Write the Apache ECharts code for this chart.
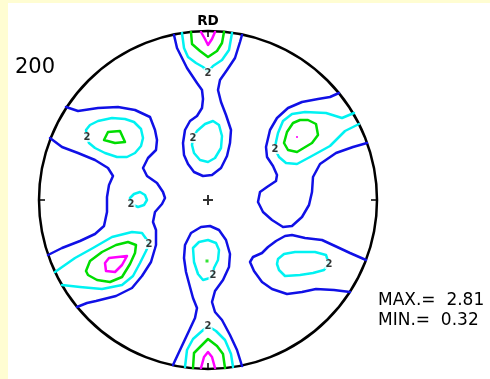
<!DOCTYPE html>
<html>
<head>
<meta charset="utf-8">
<title>200 pole figure</title>
<script src="https://cdn.jsdelivr.net/npm/echarts@6/dist/echarts.min.js"></script>
<style>
  html, body { margin: 0; padding: 0; background: #FFFDD2; width: 490px; height: 379px; overflow: hidden; }
  #chart { position: absolute; left: 8px; top: 3px; width: 482px; height: 376px; background: #ffffff; }
</style>
</head>
<body>
<div id="chart"></div>
<script>
// Pole figure {200}: projection-plane coordinates, net radius NET_R, RD pointing up.
const NET_R = 169;

// Iso-intensity lines (x, y) in net coordinates.
// Top peak (RD pole)
const topBlue = [[-34,165],[-31,152],[-21,132],[-11,117],[-6,110],[-5,101],[-6,92],[-11,84],[-18,79],[-23,70],[-25,57],[-24,45],[-20,36],[-14,28],[-5,24],[4,25],[13,32],[19,44],[22,57],[23,70],[18,85],[13,98],[10,110],[12,120],[19,130],[27,142],[32,158],[34,165]];
const topCyan = [[-26,167],[-24,152],[-20,143],[-12,137],[-5,133],[0,128],[5,134],[14,140],[21,150],[24,167]];
const topGreen = [[-17,168],[-16,156],[-8,149],[0,143],[9,149],[14,157],[16,168]];
const topMagenta = [[-7,168],[-3,161],[0,155],[4,161],[7,168]];

// Bottom peak
const botBlue = [[-35,-165],[-28,-150],[-20,-133],[-13,-118],[-11,-108],[-15,-98],[-18,-87],[-22,-72],[-24,-58],[-23,-45],[-17,-33],[-7,-27],[2,-26],[11,-30],[18,-40],[22,-54],[21,-67],[15,-80],[7,-91],[4,-102],[7,-112],[14,-120],[22,-135],[29,-150],[34,-166]];
const botCyan = [[-23,-167],[-21,-150],[-15,-139],[-6,-131],[0,-126],[8,-131],[17,-140],[23,-154],[25,-167]];
const botGreen = [[-15,-168],[-14,-153],[-7,-146],[0,-139],[9,-146],[15,-154],[17,-168]];
const botMagenta = [[-7,-168],[-4,-157],[0,-152],[4,-157],[7,-168]];

// Left side: outer envelope and inner boundary
const leftOuterBlue = [[-142,93],[-130,89],[-110,92],[-90,93],[-73,90],[-58,83],[-53,70],[-51,60],[-52,50],[-60,42],[-65,32],[-61,24],[-51,17],[-45,8],[-43,2],[-46,-4],[-53,-12],[-55,-22],[-52,-30],[-52,-45],[-57,-62],[-66,-76],[-76,-88],[-92,-96],[-112,-101],[-121,-103],[-131,-107]];
const leftInnerBlue = [[-158,62],[-146,53],[-130,47],[-113,40],[-100,32],[-95,24],[-99,15],[-101,3],[-101,-12],[-104,-26],[-113,-34],[-128,-41],[-146,-48],[-160,-55]];
const ulCyan = [[-122,70],[-118,75],[-110,79],[-96,82],[-83,81],[-74,78],[-67,71],[-65,62],[-67,54],[-73,47],[-81,43],[-91,43],[-103,47],[-113,52],[-119,57],[-121,63]];
const ulGreen = [[-104,60],[-100,68],[-88,69],[-83,58],[-93,57]];
const islandCyan = [[-78,2],[-74,6],[-68,8],[-63,5],[-61,0],[-64,-5],[-70,-7],[-77,-4]];
const llCyan = [[-153,-72],[-133,-58],[-115,-48],[-96,-37],[-76,-32],[-66,-33],[-61,-40],[-59,-44],[-62,-51],[-68,-63],[-75,-76],[-86,-85],[-106,-89],[-128,-87],[-146,-85]];
const llGreen = [[-122,-71],[-118,-61],[-106,-52],[-92,-45],[-80,-42],[-72,-45],[-73,-53],[-78,-64],[-86,-77],[-98,-82],[-111,-80],[-120,-75]];
const llMagenta = [[-103,-63],[-99,-58],[-81,-56],[-86,-65],[-93,-72],[-102,-71]];

// Centre column
const cuCyan = [[-11,69],[-3,76],[5,79],[11,75],[14,64],[13,52],[7,42],[0,38],[-8,40],[-14,47],[-16,55],[-15,62]];
const clCyan = [[-15,-48],[-9,-42],[0,-40],[8,-43],[11,-50],[10,-60],[6,-68],[5,-75],[2,-78],[-5,-80],[-10,-74],[-14,-62]];

// Right side
const urBlue = [[131,107],[122,103],[110,101],[94,98],[80,92],[69,82],[62,70],[58,53],[59,43],[65,34],[69,25],[68,19],[59,13],[52,8],[50,-2],[55,-12],[64,-20],[75,-27],[84,-26],[94,-17],[101,-5],[104,8],[105,23],[112,36],[128,47],[145,53],[159,57]];
const urCyan = [[146,87],[134,82],[118,87],[97,88],[84,86],[75,79],[70,67],[68,58],[67,51],[71,43],[78,37],[89,36],[102,43],[122,54],[137,69],[145,73],[151,76]];
const urGreen = [[85,77],[92,80],[100,80],[108,76],[110,65],[104,57],[89,48],[80,50],[76,57],[79,68]];
const lrBlue = [[158,-60],[142,-53],[127,-46],[114,-40],[97,-38],[84,-35],[77,-36],[68,-41],[60,-47],[54,-53],[45,-57],[42,-62],[46,-71],[54,-82],[64,-89],[79,-94],[94,-92],[108,-89],[126,-90],[142,-92]];
const lrCyan = [[70,-59],[76,-54],[87,-52],[107,-52],[118,-55],[121,-64],[116,-70],[105,-73],[92,-75],[77,-76],[71,-70],[69,-64]];

// Single-cell maxima inside the innermost lines
const magentaSpots = [[89,63]];
const greenSpots = [[-1,-61]];

// Positions of the "2" level labels
const levelTwoLabels = [[0,127],[-121,63],[-77,-4],[-59,-44],[0,-126],[-15,62],[5,-75],[67,51],[121,-64]];

const BLUE = '#1010E6', CYAN = '#00F2F2', GREEN = '#00DD00', MAGENTA = '#FF00FF';

const contours = [
  { pts: topBlue, color: BLUE }, { pts: topCyan, color: CYAN }, { pts: topGreen, color: GREEN }, { pts: topMagenta, color: MAGENTA },
  { pts: botBlue, color: BLUE }, { pts: botCyan, color: CYAN }, { pts: botGreen, color: GREEN }, { pts: botMagenta, color: MAGENTA },
  { pts: leftOuterBlue, color: BLUE }, { pts: leftInnerBlue, color: BLUE },
  { pts: ulCyan, color: CYAN, closed: true }, { pts: ulGreen, color: GREEN, closed: true },
  { pts: islandCyan, color: CYAN, closed: true },
  { pts: llCyan, color: CYAN }, { pts: llGreen, color: GREEN, closed: true }, { pts: llMagenta, color: MAGENTA, closed: true },
  { pts: cuCyan, color: CYAN, closed: true }, { pts: clCyan, color: CYAN, closed: true },
  { pts: urBlue, color: BLUE }, { pts: urCyan, color: CYAN }, { pts: urGreen, color: GREEN, closed: true },
  { pts: lrBlue, color: BLUE }, { pts: lrCyan, color: CYAN, closed: true }
];

const CX = 200, CY = 197; // net centre inside the chart box

const series = contours.map(c => ({
  type: 'line',
  xAxisIndex: 0, yAxisIndex: 0,
  data: c.closed ? c.pts.concat([c.pts[0]]) : c.pts,
  symbol: 'none', showSymbol: false, smooth: false, silent: true,
  clip: false,
  lineStyle: { color: c.color, width: 2.5, join: 'round', cap: 'round' },
  z: 2
}));

series.push({
  type: 'scatter', xAxisIndex: 0, yAxisIndex: 0, silent: true,
  data: magentaSpots, symbol: 'rect', symbolSize: 2,
  itemStyle: { color: MAGENTA }, z: 3
});
series.push({
  type: 'scatter', xAxisIndex: 0, yAxisIndex: 0, silent: true,
  data: greenSpots, symbol: 'rect', symbolSize: 3,
  itemStyle: { color: GREEN }, z: 3
});
// Centre of the projection
series.push({
  type: 'scatter', xAxisIndex: 0, yAxisIndex: 0, silent: true,
  data: [[0, 0]],
  symbol: 'path://M4,0h2v4h4v2h-4v4h-2v-4h-4v-2h4z', symbolSize: 10,
  itemStyle: { color: '#000' }, z: 3
});
// Level labels
series.push({
  type: 'scatter', xAxisIndex: 0, yAxisIndex: 0, silent: true,
  data: levelTwoLabels, symbolSize: 1,
  itemStyle: { color: 'rgba(0,0,0,0)' },
  label: {
    show: true, position: 'inside', formatter: '2',
    fontFamily: 'DejaVu Sans', fontSize: 10, fontWeight: 'bold', color: '#000',
    backgroundColor: '#fff', padding: [0, 1, 0, 1], lineHeight: 10
  },
  z: 4
});

const chart = echarts.init(document.getElementById('chart'), null, { renderer: 'canvas' });
chart.setOption({
  animation: false,
  backgroundColor: '#ffffff',
  polar: { center: [CX, CY], radius: NET_R },
  angleAxis: {
    type: 'value', min: 0, max: 360, interval: 90, startAngle: 90, clockwise: true,
    axisLine: { show: true, lineStyle: { color: '#000', width: 2.5 } },
    axisTick: { show: true, inside: true, length: 6, lineStyle: { color: '#000', width: 1.5 } },
    axisLabel: { show: false }, splitLine: { show: false }
  },
  radiusAxis: {
    type: 'value', min: 0, max: 1,
    axisLine: { show: false }, axisTick: { show: false }, axisLabel: { show: false }, splitLine: { show: false }
  },
  grid: { left: CX - NET_R, top: CY - NET_R, width: 2 * NET_R, height: 2 * NET_R, containLabel: false },
  xAxis: { type: 'value', min: -NET_R, max: NET_R, show: false },
  yAxis: { type: 'value', min: -NET_R, max: NET_R, show: false },
  graphic: [
    { type: 'text', left: 7, top: 54, style: { text: '200', fill: '#000', font: '21px "DejaVu Sans"' } },
    { type: 'text', x: CX, y: 18, style: { text: 'RD', fill: '#000', font: 'bold 13.5px "DejaVu Sans"', textAlign: 'center', textVerticalAlign: 'middle' } },
    { type: 'text', x: 370, y: 298, style: { text: 'MAX.=  2.81', fill: '#000', font: '17px "DejaVu Sans"', textVerticalAlign: 'middle' } },
    { type: 'text', x: 370, y: 318, style: { text: 'MIN.=  0.32', fill: '#000', font: '17px "DejaVu Sans"', textVerticalAlign: 'middle' } }
  ],
  series: series
});
</script>
</body>
</html>
